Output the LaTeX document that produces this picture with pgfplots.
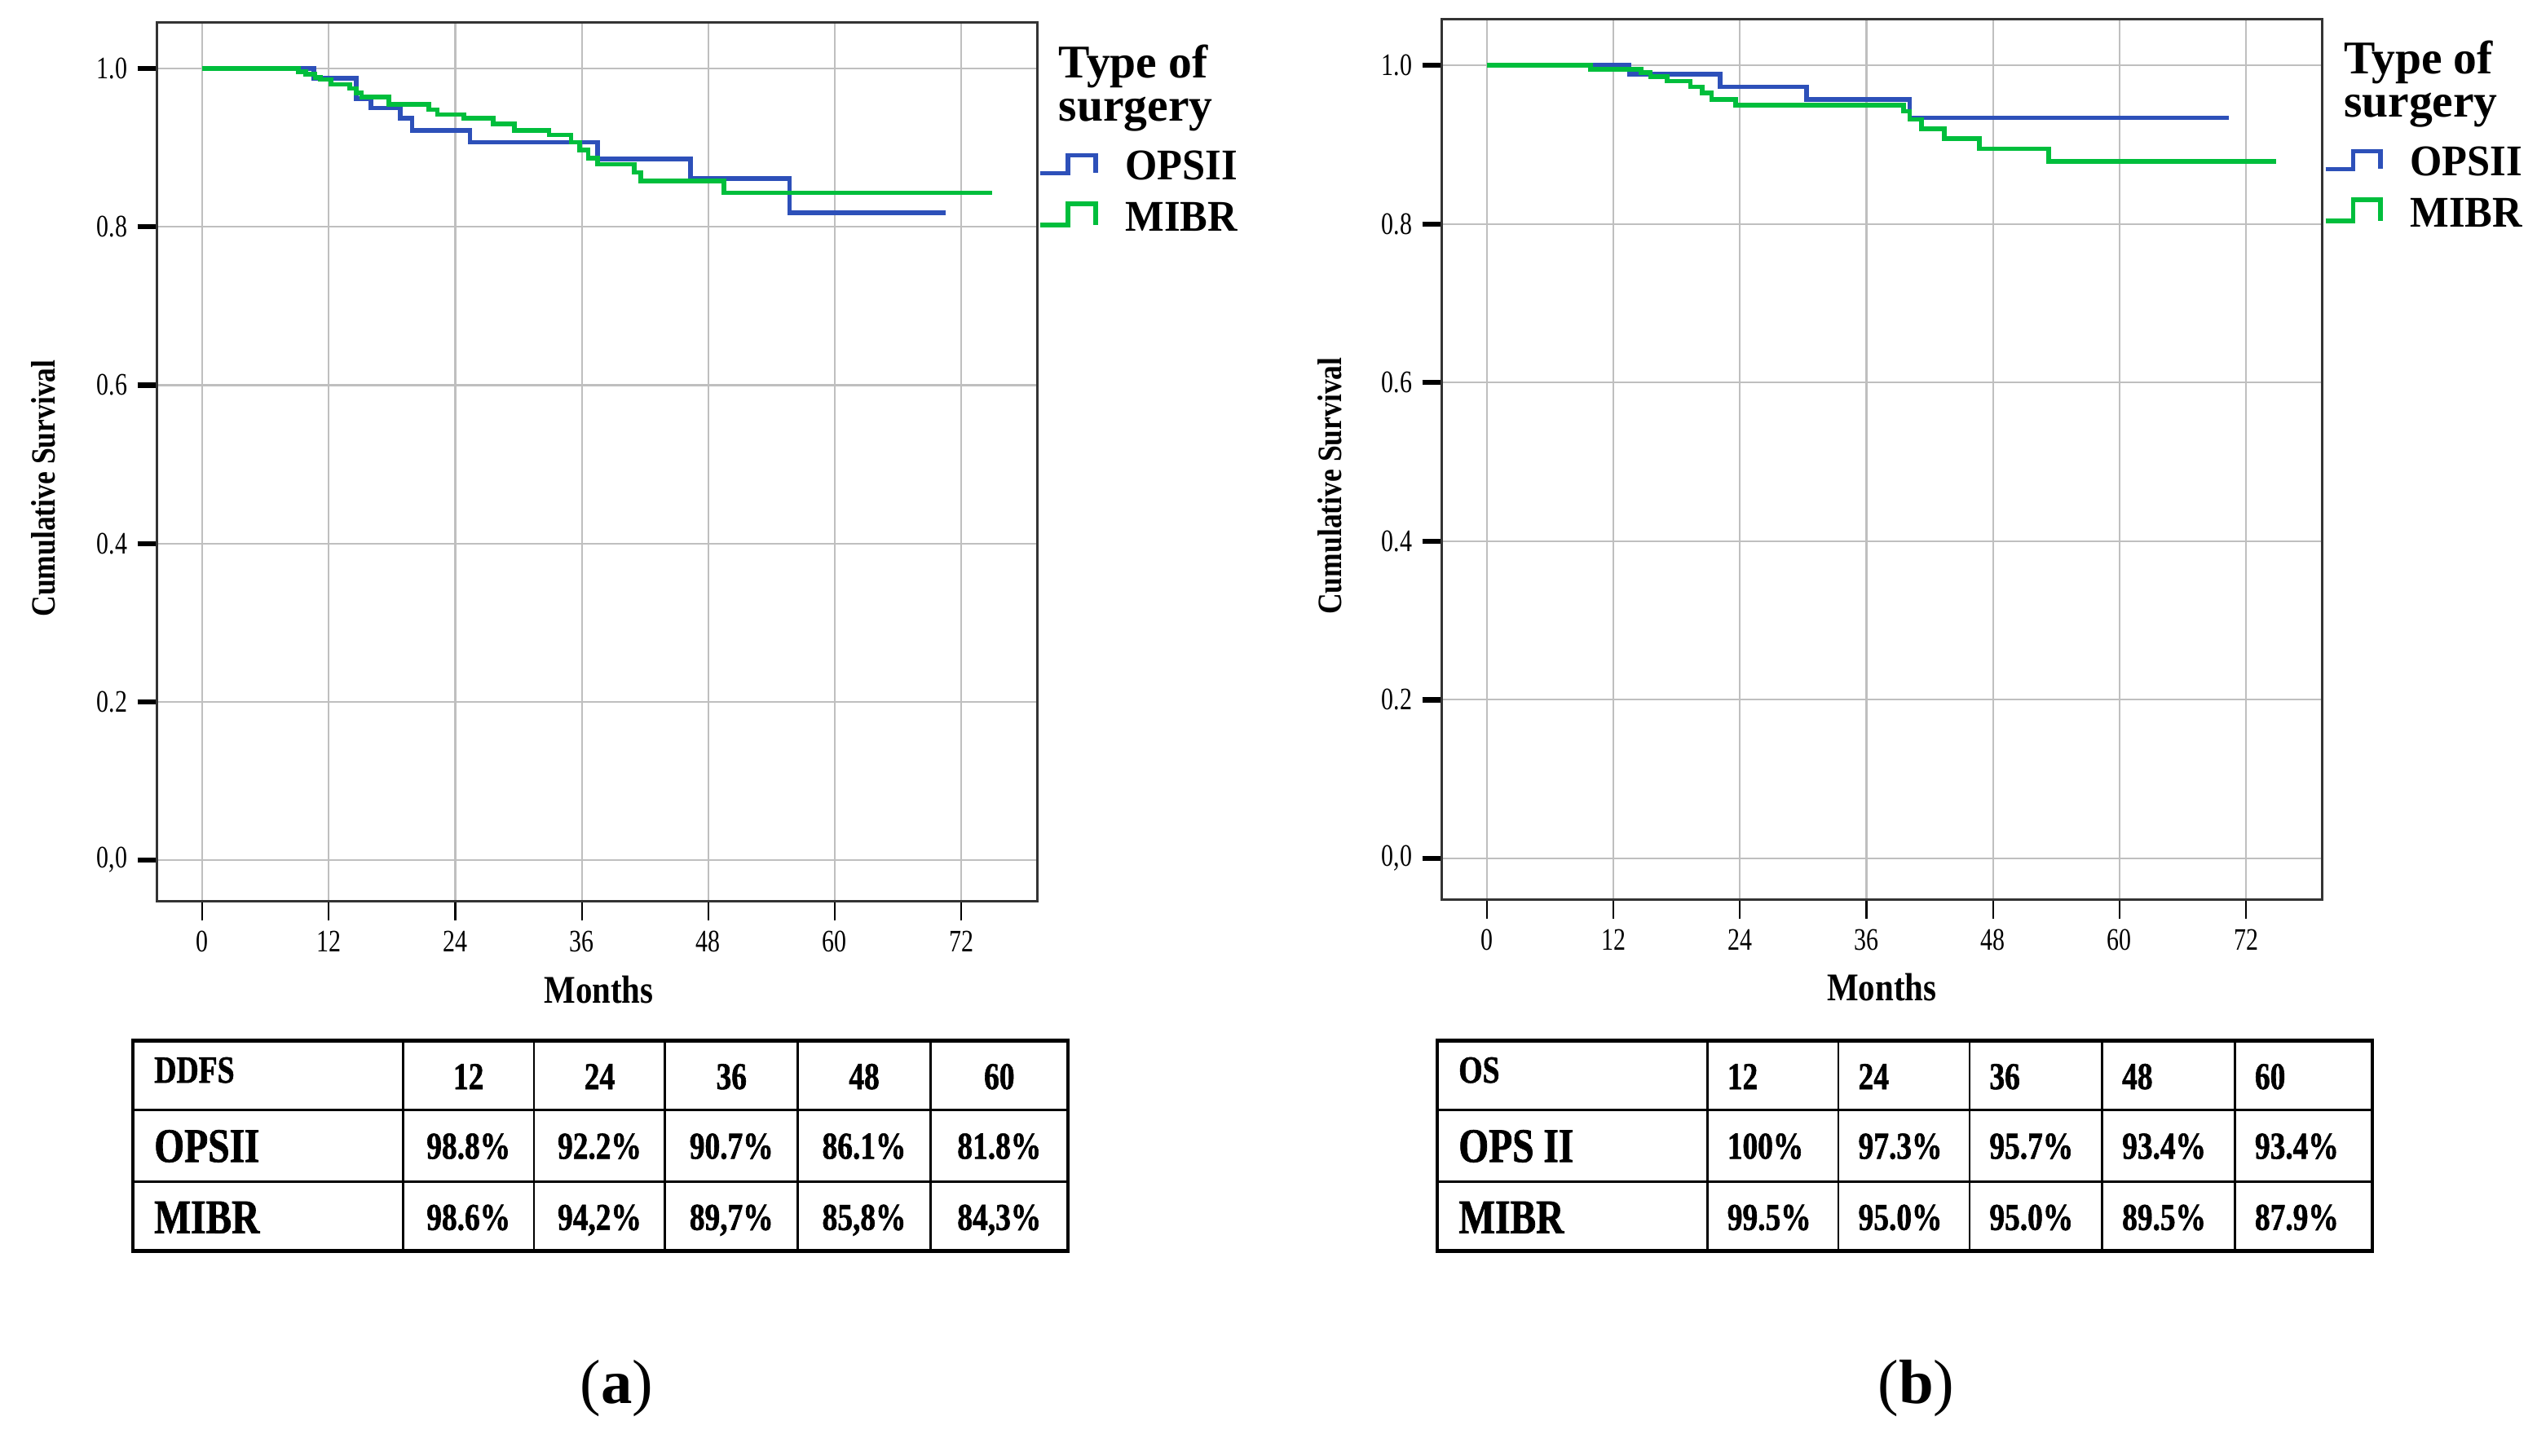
\documentclass[border=0pt]{standalone}
\usepackage{fontspec}
\setmainfont{Liberation Serif}
\newfontfamily\tickfont[FakeStretch=0.78]{Liberation Serif}
\newfontfamily\labfont[FakeStretch=0.85]{Liberation Serif}
\newfontfamily\legfont[FakeStretch=0.94]{Liberation Serif}
\newfontfamily\tabfont[FakeStretch=0.8, FakeBold=1.2]{Liberation Serif}
\newfontfamily\rowfont[FakeStretch=0.8, FakeBold=1.2]{Liberation Serif}
\usepackage{pgfplots}
\pgfplotsset{compat=1.18}

\definecolor{kmblue}{RGB}{45,80,185}
\definecolor{kmgreen}{RGB}{0,190,60}

% common look of the two Kaplan-Meier panels
\pgfplotsset{kmaxis/.style={
  scale only axis,
  width=10.88cm, height=10.86cm,
  xmin=-4.3, xmax=79.2, ymin=-0.052, ymax=1.058,
  xtick={0,12,24,36,48,60,72},
  ytick={0,0.2,0.4,0.6,0.8,1},
  yticklabels={{0,0},0.2,0.4,0.6,0.8,1.0},
  tick pos=left,
  tick align=outside,
  grid=major,
  major grid style={gray!50, line width=0.6pt},
  axis line style={black!80, line width=0.9pt},
  x tick style={black, line width=0.6pt},
  y tick style={black, line width=1.8pt},
  major tick length=0.24cm,
  /pgf/number format/assume math mode=true,
  tick label style={font=\tickfont\fontsize{11}{13}\selectfont},
  label style={font=\labfont\bfseries\fontsize{12}{14}\selectfont},
  xlabel={Months},
  ylabel={Cumulative Survival},
  xlabel style={at={(axis description cs:0.502,-0.101)}, anchor=center,
    font=\labfont\bfseries\fontsize{13.8}{15}\selectfont},
  ylabel style={at={(axis description cs:-0.129,0.47)}, anchor=center},
}}

\begin{document}
\begin{tikzpicture}
\useasboundingbox (0,0) rectangle (31.36cm,-17.988cm);

% (a) distant disease-free survival
\begin{axis}[kmaxis, at={(1.94cm,-11.14cm)}, anchor=south west]
  \addplot[const plot, kmblue, line width=1.6pt] coordinates {
    (0,1) (10.6,0.988) (14.6,0.962) (16.0,0.950) (18.8,0.937) (19.9,0.922)
    (25.4,0.907) (37.5,0.886) (46.3,0.861) (55.7,0.818) (70.5,0.818)
  };
  \addplot[const plot, kmgreen, line width=1.6pt] coordinates {
    (0,1) (9.1,0.996) (9.8,0.993) (10.7,0.989) (11.2,0.986) (12.2,0.980)
    (14.0,0.975) (14.6,0.969) (15.1,0.964) (17.7,0.955) (21.5,0.948)
    (22.3,0.942) (24.8,0.937) (27.6,0.930) (29.6,0.922) (32.9,0.916)
    (35.0,0.907) (35.8,0.897) (36.6,0.887) (37.5,0.879) (41.0,0.869)
    (41.6,0.858) (49.5,0.843) (74.9,0.843)
  };
\end{axis}

% (b) overall survival
\begin{axis}[kmaxis, height=10.88cm, at={(17.82cm,-11.12cm)}, anchor=south west,
  xlabel style={at={(axis description cs:0.5,-0.1)}},
  ylabel style={at={(axis description cs:-0.127,0.47)}}]
  \addplot[const plot, kmblue, line width=1.6pt] coordinates {
    (0,1) (13.5,0.989) (22.1,0.973) (30.3,0.957) (40.1,0.934) (70.4,0.934)
  };
  \addplot[const plot, kmgreen, line width=1.6pt] coordinates {
    (0,1) (9.8,0.995) (14.6,0.991) (15.5,0.986) (17.1,0.980) (19.3,0.973)
    (20.4,0.965) (21.3,0.957) (23.6,0.950) (39.5,0.942) (40.1,0.932)
    (41.2,0.920) (43.4,0.908) (46.7,0.895) (53.3,0.879) (74.9,0.879)
  };
\end{axis}

\begin{scope}[x=0.02cm, y=-0.02cm]
  % legends
  \foreach \dx/\dy in {0/0, 794/-2.5} {
    \begin{scope}[shift={(\dx,\dy)}]
      \draw[kmblue, line width=1.6pt] (643,107) -- (660,107) -- (660,96) -- (677,96) -- (677,107);
      \draw[kmgreen, line width=1.6pt] (643,139) -- (660,139) -- (660,126) -- (677,126) -- (677,139);
      \begin{scope}[every node/.style={anchor=base west, inner sep=0,
          font=\bfseries\fontsize{16.5}{18}\selectfont}]
        \node at (654,48) {Type of};
        \node at (654,75) {surgery};
      \end{scope}
      \begin{scope}[every node/.style={anchor=base west, inner sep=0,
          font=\legfont\bfseries\fontsize{15.4}{17}\selectfont}]
        \node at (695,111) {OPSII};
        \node at (695,143) {MIBR};
      \end{scope}
    \end{scope}
  }

  % table (a)
  \draw[line width=1.2pt] (82,643) rectangle (660,773);
  \draw[line width=0.8pt] (82,686) -- (660,686) (82,730) -- (660,730);
  \foreach \c in {249,330,411,493,575} \draw[line width=0.8pt] (\c,643) -- (\c,773);
  \node[anchor=base west, inner sep=0, font=\tabfont\bfseries\fontsize{13.5}{15}\selectfont] at (95,669) {DDFS};
  \node[anchor=base west, inner sep=0, font=\rowfont\bfseries\fontsize{17}{19}\selectfont] at (95,718) {OPSII};
  \node[anchor=base west, inner sep=0, font=\rowfont\bfseries\fontsize{17}{19}\selectfont] at (95,762) {MIBR};
  \begin{scope}[every node/.style={anchor=base, inner sep=0, font=\tabfont\bfseries\fontsize{13.4}{15}\selectfont}]
    \foreach \x/\h/\o/\m in {289.5/12/98.8\%/98.6\%, 370.5/24/92.2\%/{94,2\%},
        452/36/90.7\%/{89,7\%}, 534/48/86.1\%/{85,8\%}, 617.5/60/81.8\%/{84,3\%}} {
      \node at (\x,673) {\h};
      \node at (\x,716) {\o};
      \node at (\x,760) {\m};
    }
  \end{scope}

  % table (b)
  \begin{scope}[shift={(806,0)}]
    \draw[line width=1.2pt] (82,643) rectangle (660,773);
    \draw[line width=0.8pt] (82,686) -- (660,686) (82,730) -- (660,730);
    \foreach \c in {249,330,411,493,575} \draw[line width=0.8pt] (\c,643) -- (\c,773);
    \node[anchor=base west, inner sep=0, font=\tabfont\bfseries\fontsize{13.5}{15}\selectfont] at (95,669) {OS};
    \node[anchor=base west, inner sep=0, font=\rowfont\bfseries\fontsize{17}{19}\selectfont] at (95,718) {OPS II};
    \node[anchor=base west, inner sep=0, font=\rowfont\bfseries\fontsize{17}{19}\selectfont] at (95,762) {MIBR};
    \begin{scope}[every node/.style={anchor=base west, inner sep=0, font=\tabfont\bfseries\fontsize{13.4}{15}\selectfont}]
      \foreach \x/\h/\o/\m in {261/12/100\%/99.5\%, 342/24/97.3\%/95.0\%,
          423/36/95.7\%/95.0\%, 505/48/93.4\%/89.5\%, 587/60/93.4\%/87.9\%} {
        \node at (\x,673) {\h};
        \node at (\x,716) {\o};
        \node at (\x,760) {\m};
      }
    \end{scope}
  \end{scope}

  % panel captions
  \node[font=\fontsize{22}{26}\selectfont] at (381,858) {(\textbf{a})};
  \node[font=\fontsize{22}{26}\selectfont] at (1184,858) {(\textbf{b})};
\end{scope}
\end{tikzpicture}
\end{document}
